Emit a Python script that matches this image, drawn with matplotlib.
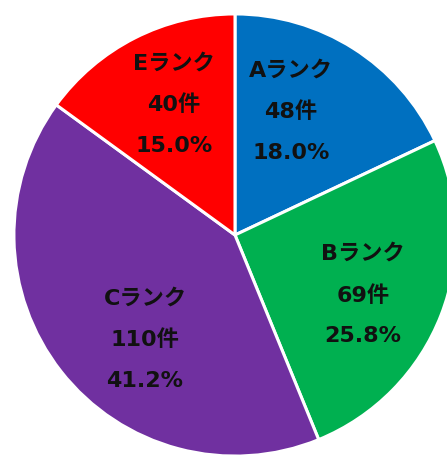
import numpy as np
import matplotlib.pyplot as plt

# Latin digits from DejaVu (wide bold), kana/kanji fall back to Noto CJK
plt.rcParams['font.family'] = ['DejaVu Sans', 'Noto Sans CJK JP']

ranks = ['Aランク', 'Bランク', 'Cランク', 'Eランク']
counts = [48, 69, 110, 40]
shares = [18.0, 25.8, 41.2, 15.0]
colors = ['#0070C0', '#00B050', '#7030A0', '#FF0000']
# label block centres (pie radius = 1)
label_pos = [(0.253, 0.557), (0.579, -0.272), (-0.407, -0.475), (-0.276, 0.588)]

fig = plt.figure(figsize=(4.47, 4.55), dpi=100)
ax = fig.add_axes([0, 0, 1, 1])

ax.pie(counts, colors=colors, startangle=90, counterclock=False,
       radius=1.0, wedgeprops=dict(edgecolor='white', linewidth=2.2))

step = 0.187
for name, n, pct, (x, y) in zip(ranks, counts, shares, label_pos):
    lines = [name, f'{n}件', f'{pct:.1f}%']
    for i, s in enumerate(lines):
        ax.text(x, y + step * (1 - i), s, ha='center', va='center',
                fontsize=16, fontweight='bold', color='#111111')

ax.set_aspect('equal')
ax.set_xlim(-1.063, 0.959)
ax.set_ylim(-0.995, 1.063)
ax.axis('off')

fig.savefig('out.png', dpi=100)
